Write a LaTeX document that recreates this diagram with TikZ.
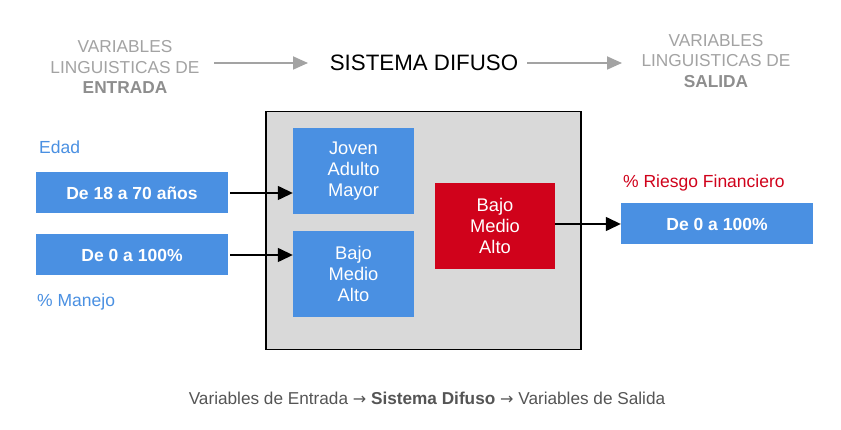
\documentclass[tikz,border=0pt]{standalone}
\usepackage{fontspec}
\setmainfont{Liberation Sans}
\newfontfamily\djv{DejaVu Sans}
\usetikzlibrary{arrows.meta}
\definecolor{bblue}{HTML}{4A90E2}
\definecolor{rred}{HTML}{D0021B}
\definecolor{boxgray}{HTML}{D9D9D9}
\definecolor{hgray}{HTML}{A3A3A3}
\definecolor{hgrayb}{HTML}{8E8E8E}
\definecolor{capgray}{HTML}{555555}
\tikzset{
  hdr/.style={text=hgray, font=\fontsize{17.3}{20.5}\selectfont, align=center, inner sep=0pt},
  inbox/.style={fill=bblue, text=white, font=\fontsize{17.5}{20}\selectfont\bfseries, minimum width=192pt, minimum height=41pt, inner sep=0pt},
  fuzz/.style={fill=bblue, text=white, font=\fontsize{18.3}{21}\selectfont, align=center, minimum width=121pt, minimum height=86pt, inner sep=0pt},
  lbl/.style={font=\fontsize{17.5}{20}\selectfont, anchor=west, inner sep=0pt},
  conn/.style={draw=black, line width=1.4pt, shorten <=2pt, -{Triangle[length=15pt,width=14pt]}},
  hconn/.style={draw=hgray, line width=1.8pt, -{Triangle[length=15pt,width=13pt]}},
  capar/.style={font=\djv\fontsize{17}{18}\selectfont},
}
\begin{document}
\begin{tikzpicture}[x=1pt,y=-1pt]
\useasboundingbox (0,0) rectangle (841,430);
\fill[white] (0,0) rectangle (841,430);
% header
\node[hdr] (hin) at (125,67) {VARIABLES\\LINGUISTICAS DE\\{\color{hgrayb}\bfseries ENTRADA}};
\node[font=\fontsize{22.3}{24}\selectfont, inner sep=0pt] (hsys) at (424,63) {SISTEMA DIFUSO};
\node[hdr] (hout) at (716,61) {VARIABLES\\LINGUISTICAS DE\\{\color{hgrayb}\bfseries SALIDA}};
\coordinate (a1s) at (214,63); \coordinate (a1e) at (308,63);
\coordinate (a2s) at (527,63); \coordinate (a2e) at (622,63);
\draw[hconn] (a1s) -- (a1e);
\draw[hconn] (a2s) -- (a2e);
% big gray box
\node[draw=black, line width=1.5pt, fill=boxgray, minimum width=315pt, minimum height=238pt, inner sep=0pt] (sys) at (423.5,230.5) {};
% input boxes
\node[inbox] (edad) at (132,193) {De 18 a 70 años};
\node[inbox] (manejo) at (132,255) {De 0 a 100\%};
\node[lbl, text=bblue] (ledad) at (39,147) {Edad};
\node[lbl, text=bblue] (lmanejo) at (37,302) {\% Manejo};
% fuzzy sets
\node[fuzz] (f1) at (353.5,171) {Joven\\Adulto\\Mayor};
\node[fuzz] (f2) at (353.5,274) {Bajo\\Medio\\Alto};
\node[fuzz, fill=rred, minimum width=120pt] (f3) at (495,226) {Bajo\\Medio\\Alto};
% output
\node[inbox] (out) at (717,224) {De 0 a 100\%};
\node[lbl, text=rred] (lout) at (623,183) {\% Riesgo Financiero};
% connectors
\draw[conn] (edad.east) -- (f1.west |- edad.east);
\draw[conn] (manejo.east) -- (f2.west |- manejo.east);
\draw[conn, shorten <=0pt] (f3.east |- out.west) -- (out.west);
% caption
\node[text=capgray, font=\fontsize{17.2}{18}\selectfont, inner sep=0pt] (cap) at (427,398) {Variables de Entrada {\djv\fontsize{16}{18}\selectfont→} \textbf{Sistema Difuso} {\djv\fontsize{16}{18}\selectfont→} Variables de Salida};
\end{tikzpicture}
\end{document}
